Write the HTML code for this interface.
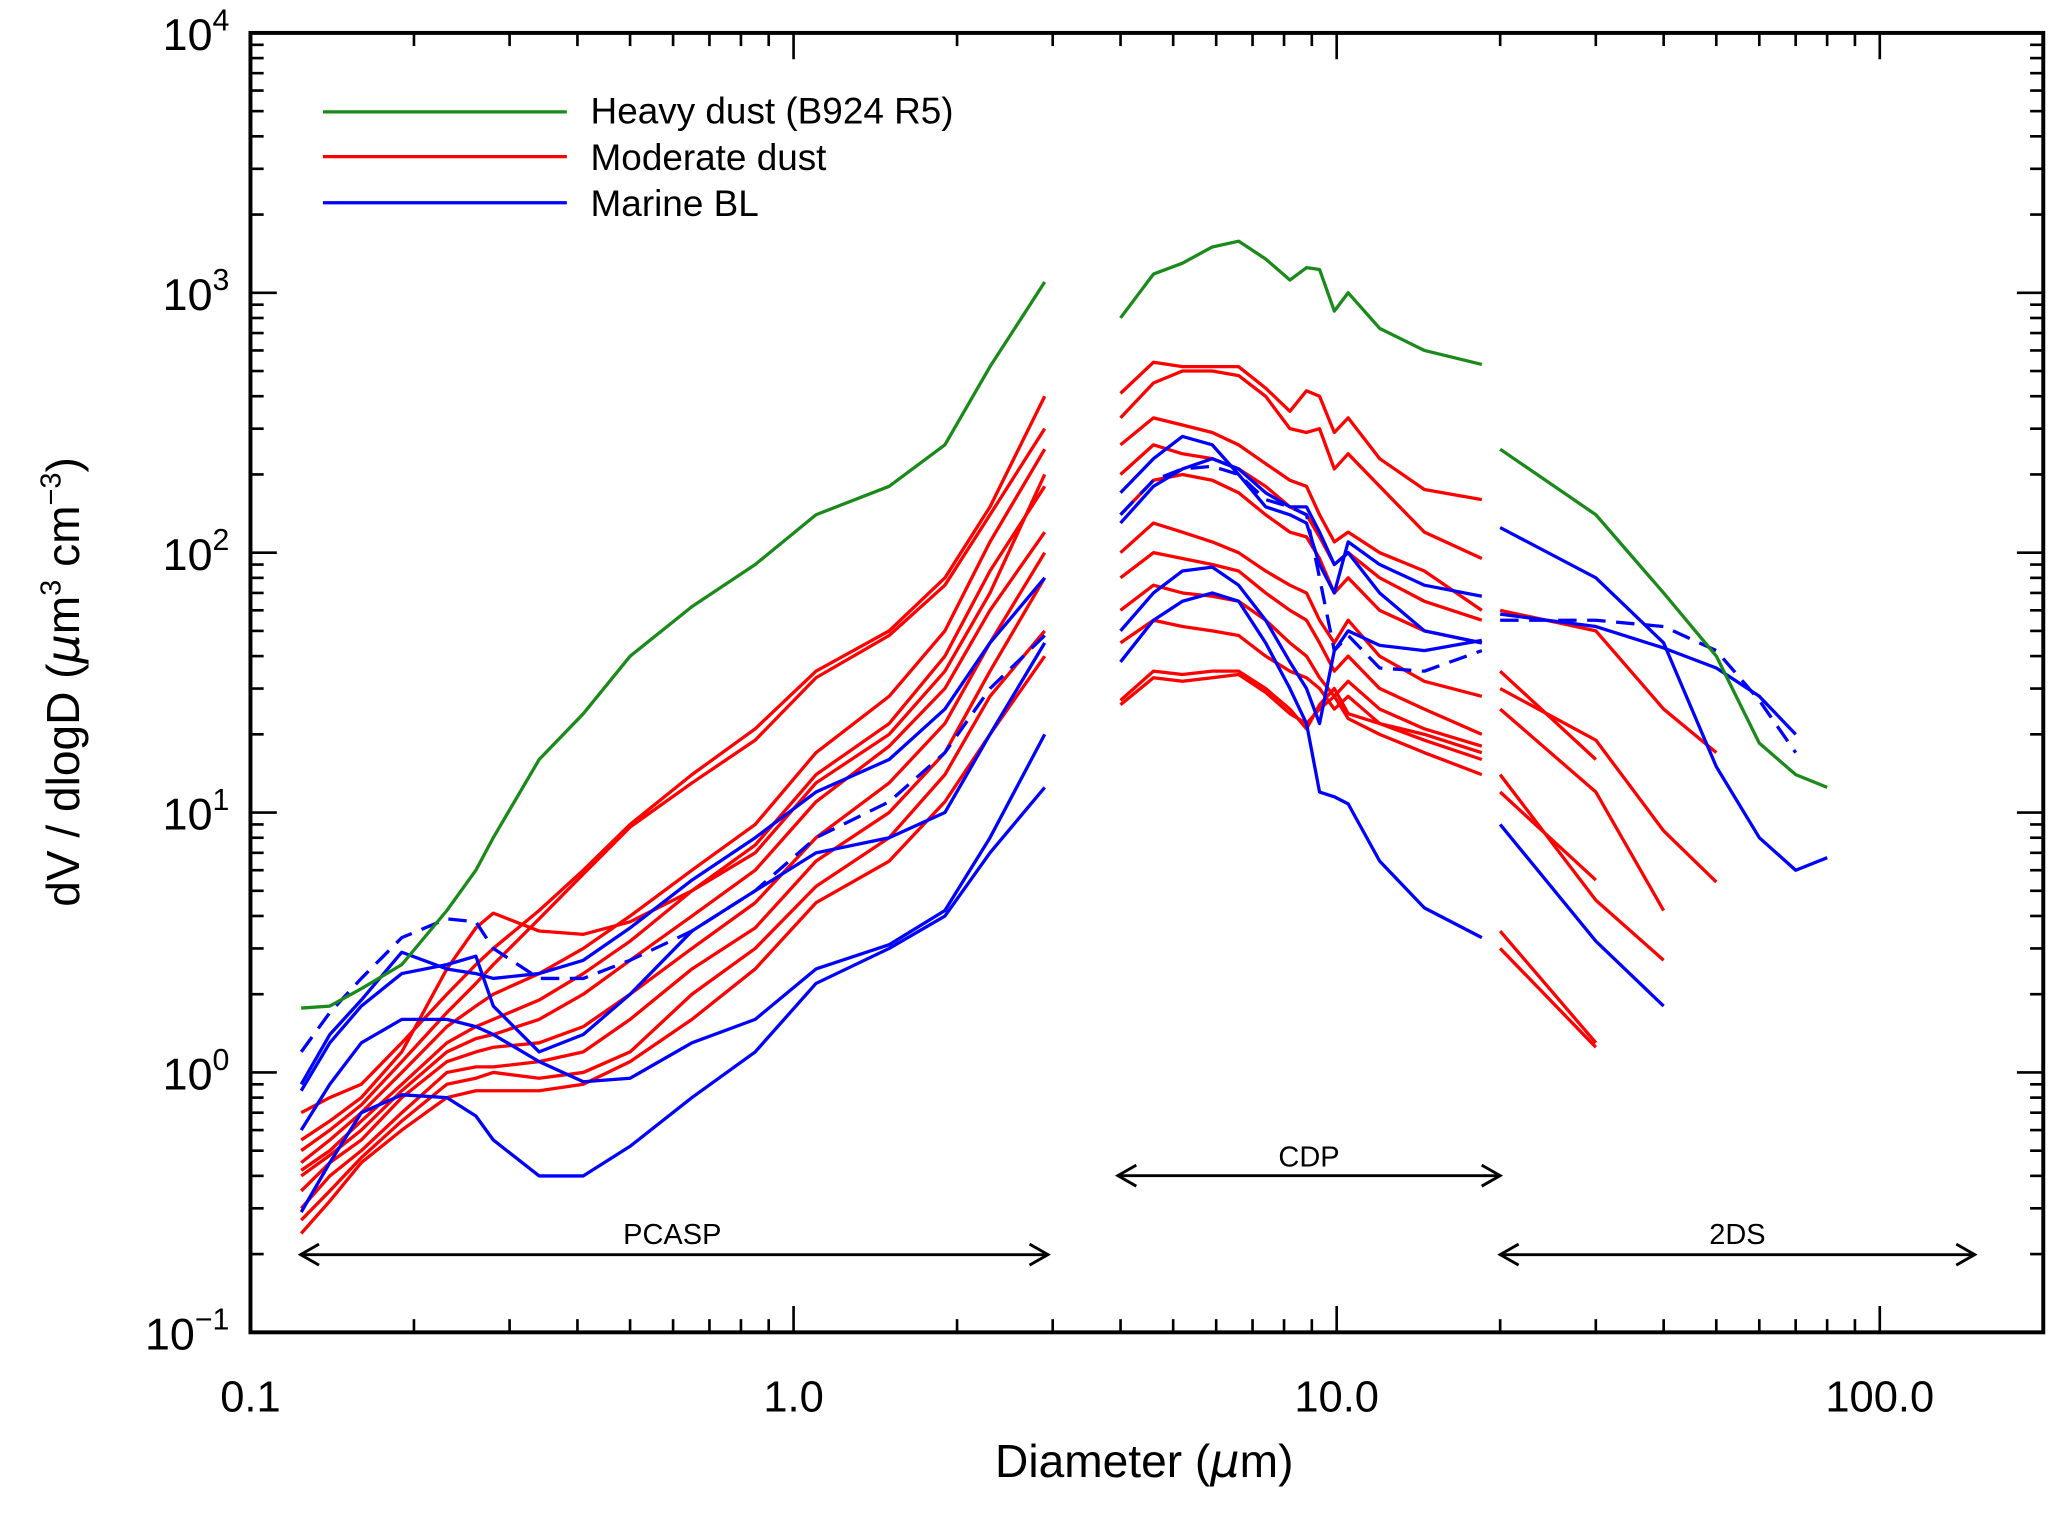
<!DOCTYPE html>
<html><head><meta charset="utf-8"><style>
html,body{margin:0;padding:0;background:#fff}
svg{display:block}
text{font-family:"Liberation Sans",sans-serif;fill:#000}
</style></head><body>
<svg id="chart" width="2067" height="1514" viewBox="0 0 1568 1150" preserveAspectRatio="none" xmlns="http://www.w3.org/2000/svg">
<g id="axes"></g>
<g id="series"></g>
<rect x="190" y="25" width="1360" height="987" fill="none" stroke="#000" stroke-width="3"/>
<g>
<line x1="245" y1="85" x2="430" y2="85" stroke="#1a8a1a" stroke-width="2.5"/>
<text x="448" y="94" font-size="28">Heavy dust (B924 R5)</text>
<line x1="245" y1="119" x2="430" y2="119" stroke="#f00" stroke-width="2.5"/>
<text x="448" y="129" font-size="28">Moderate dust</text>
<line x1="245" y1="154" x2="430" y2="154" stroke="#00f" stroke-width="2.5"/>
<text x="448" y="164" font-size="28">Marine BL</text>
</g>
<g stroke="#000" stroke-width="2.2" fill="none">
<line x1="228" y1="953" x2="795" y2="953"/>
<polyline points="242,945 228,953 242,961"/><polyline points="781,945 795,953 781,961"/>
<line x1="848" y1="893" x2="1138" y2="893"/>
<polyline points="862,885 848,893 862,901"/><polyline points="1124,885 1138,893 1124,901"/>
<line x1="1138" y1="953" x2="1498" y2="953"/>
<polyline points="1152,945 1138,953 1152,961"/><polyline points="1484,945 1498,953 1484,961"/>
</g>
<text x="510" y="945" font-size="22" text-anchor="middle">PCASP</text>
<text x="993" y="886" font-size="22" text-anchor="middle">CDP</text>
<text x="1318" y="945" font-size="22" text-anchor="middle">2DS</text>
<text x="868" y="1122" font-size="35" text-anchor="middle">Diameter (<tspan font-family="DejaVu Sans" font-style="italic">μ</tspan>m)</text>
<text transform="translate(60,518) rotate(-90)" font-size="35" text-anchor="middle">dV / dlogD (<tspan font-family="DejaVu Sans" font-style="italic">μ</tspan>m<tspan font-size="22" dy="-14">3</tspan><tspan dy="14"> cm</tspan><tspan font-size="22" dy="-14">−3</tspan><tspan dy="14">)</tspan></text>
</svg>
<script>
const xTicks=[0.1,1,10,100];
const xTickLabels=["0.1","1.0","10.0","100.0"];
const yExps=[-1,0,1,2,3,4];
const pcaspD=[0.124,0.14,0.16,0.19,0.23,0.26,0.28,0.34,0.41,0.5,0.65,0.85,1.1,1.5,1.9,2.3,2.9];
const cdpD=[4.0,4.6,5.2,5.9,6.6,7.4,8.2,8.8,9.3,9.9,10.5,12,14.5,18.5];
const tdsD=[20,30,40,50,60,70,80];
const pcaspGreen=[1.77,1.8,2.1,2.6,4.2,6,8,16,24,40,62,90,140,180,260,520,1100];
const pcaspRed=[
[0.7,0.8,0.9,1.3,2,2.6,3,4.2,6,9,14,21,35,50,80,150,400],
[0.55,0.65,0.8,1.2,2.5,3.6,4.1,3.5,3.4,3.8,5,7,13,20,35,70,200],
[0.5,0.6,0.75,1.1,1.7,2.2,2.6,3.9,5.8,8.8,13,19,33,48,75,140,300],
[0.45,0.55,0.7,1,1.5,1.8,2,2.4,3,4,6,9,17,28,50,110,250],
[0.42,0.5,0.65,0.9,1.3,1.5,1.6,1.9,2.4,3.2,5,7.5,14,22,40,85,180],
[0.4,0.48,0.6,0.85,1.2,1.35,1.4,1.6,2,2.7,4,6,11,18,30,60,120],
[0.35,0.45,0.55,0.8,1.1,1.2,1.25,1.3,1.5,2,3,4.5,8,13,22,45,100],
[0.3,0.4,0.5,0.7,1,1.05,1.05,1.1,1.2,1.6,2.5,3.6,6.5,10,17,35,80],
[0.27,0.35,0.47,0.65,0.9,0.95,1,0.95,1,1.2,2,3,5.2,8,14,28,50],
[0.24,0.32,0.45,0.6,0.8,0.85,0.85,0.85,0.9,1.1,1.6,2.5,4.5,6.5,11,20,40]];
const pcaspBlue=[
[0.29,0.45,0.7,0.82,0.8,0.68,0.55,0.4,0.4,0.52,0.8,1.2,2.2,3,4,7,12.5],
[0.6,0.9,1.3,1.6,1.6,1.5,1.4,1.1,0.92,0.95,1.3,1.6,2.5,3.1,4.2,8,20],
[0.85,1.3,1.8,2.4,2.6,2.8,1.8,1.2,1.4,2,3.5,5,7,8,10,20,45],
[0.9,1.4,1.9,2.9,2.5,2.4,2.3,2.4,2.7,3.6,5.5,8,12,16,25,45,80]];
const pcaspBlueDash=[1.2,1.7,2.3,3.3,3.9,3.8,3,2.3,2.3,2.7,3.5,5,8,11,17,30,48];
const cdpGreen=[800,1180,1300,1500,1580,1350,1120,1250,1230,850,1000,730,600,530];
const cdpRed=[
[410,540,520,520,520,430,350,420,400,290,330,230,175,160],
[330,450,500,500,480,400,300,290,300,210,240,180,120,95],
[260,330,310,290,260,220,190,180,140,110,120,100,85,60],
[200,260,240,230,210,180,150,140,115,90,100,80,65,55],
[140,190,200,190,170,140,120,115,95,70,80,60,50,45],
[100,130,120,110,100,85,75,70,55,45,55,40,32,28],
[80,100,95,90,85,70,60,55,45,35,40,30,25,20],
[60,75,70,68,65,55,45,40,33,28,32,25,21,18],
[45,55,52,50,48,40,35,33,30,25,28,22,19,16],
[27,35,34,35,35,30,25,21,26,30,24,22,20,17],
[26,33,32,33,34,29,24,22,25,28,23,20,17,14]];
const cdpBlue=[
[170,230,280,260,200,150,140,130,90,70,110,90,75,68],
[38,55,65,70,65,45,30,22,12,11.5,10.8,6.5,4.3,3.3],
[50,70,85,88,75,55,38,30,22,42,50,44,42,46],
[130,180,210,230,210,170,150,150,120,90,100,70,50,45]];
const cdpBlueDash=[140,190,210,215,200,160,150,140,80,42,48,36,35,42];
const tdsGreen=[250,140,70,40,18.5,14,12.5];
const tdsBlue=[
[125,80,45,15,8,6,6.7],
[58,52,43,36,28,20,null],
[9,3.2,1.8,null,null,null,null]];
const tdsBlueDash=[55,55,52,42,27,17,null];
const tdsRed=[
[60,50,25,17,null,null,null],
[30,19,8.5,5.4,null,null,null],
[35,16,null,null,null,null,null],
[25,12,4.2,null,null,null,null],
[14,4.6,2.7,null,null,null,null],
[12,5.5,null,null,null,null,null],
[3.5,1.3,null,null,null,null,null],
[3,1.25,null,null,null,null,null]];

const NS="http://www.w3.org/2000/svg";
const X0=190,X1=1550,Y0=1012,Y1=25;
const xMinL=-1,xMaxL=Math.log10(200);
const yMinL=-1,yMaxL=4;
function sx(v){return X0+(Math.log10(v)-xMinL)/(xMaxL-xMinL)*(X1-X0);}
function sy(v){return Y0-(Math.log10(v)-yMinL)/(yMaxL-yMinL)*(Y0-Y1);}
const axes=document.getElementById('axes');
const ser=document.getElementById('series');
function mk(tag,attrs,parent){const e=document.createElementNS(NS,tag);for(const k in attrs)e.setAttribute(k,attrs[k]);parent.appendChild(e);return e;}
for(let d=-1;d<=2;d++){for(let m=1;m<=9;m++){const v=m*Math.pow(10,d);if(Math.log10(v)>xMaxL)continue;const x=sx(v);const L=m===1?20:10;
const t1=mk('line',{x1:x,y1:Y0,x2:x,y2:Y0-L,stroke:'#000','stroke-width':2},axes);


const t2=mk('line',{x1:x,y1:Y1,x2:x,y2:Y1+L,stroke:'#000','stroke-width':2},axes);

}}
xTicks.forEach((v,i)=>{const t=mk('text',{x:sx(v),y:1072,'font-size':33,'text-anchor':'middle'},axes);t.textContent=xTickLabels[i];

});
yExps.forEach(e=>{for(let m=1;m<=9;m++){const v=m*Math.pow(10,e);if(Math.log10(v)>yMaxL+1e-9)continue;const y=sy(v);const L=m===1?20:10;
const t1=mk('line',{x1:X0,y1:y,x2:X0+L,y2:y,stroke:'#000','stroke-width':2},axes);


const t2=mk('line',{x1:X1,y1:y,x2:X1-L,y2:y,stroke:'#000','stroke-width':2},axes);

}
const t=mk('text',{x:174,y:sy(Math.pow(10,e))+13,'font-size':34,'text-anchor':'end'},axes);


const a=document.createElementNS(NS,'tspan');a.textContent='10';t.appendChild(a);
const b=document.createElementNS(NS,'tspan');b.setAttribute('font-size','23');b.setAttribute('dy','-15');b.textContent=e<0?'−'+(-e):String(e);t.appendChild(b);});
function draw(D,vals,color,dash,name){let segs=[],cur=[];D.forEach((d,i)=>{const v=vals[i];if(v==null){if(cur.length)segs.push(cur);cur=[];}else cur.push(sx(d).toFixed(1)+','+sy(v).toFixed(1));});if(cur.length)segs.push(cur);
segs.forEach(s=>{const p=mk('polyline',{points:s.join(' '),fill:'none',stroke:color,'stroke-width':2.5,'stroke-linejoin':'round'},ser);if(dash)p.setAttribute('stroke-dasharray','14,8');

});}
const G='#1a8a1a',R='#f00',B='#00f';
pcaspRed.forEach(s=>draw(pcaspD,s,R,false,'moderate-dust-pcasp-line'));
pcaspBlue.forEach(s=>draw(pcaspD,s,B,false,'marine-bl-pcasp-line'));
draw(pcaspD,pcaspBlueDash,B,true,'marine-bl-pcasp-dashed-line');
draw(pcaspD,pcaspGreen,G,false,'heavy-dust-pcasp-line');
cdpRed.forEach(s=>draw(cdpD,s,R,false,'moderate-dust-cdp-line'));
cdpBlue.forEach(s=>draw(cdpD,s,B,false,'marine-bl-cdp-line'));
draw(cdpD,cdpBlueDash,B,true,'marine-bl-cdp-dashed-line');
draw(cdpD,cdpGreen,G,false,'heavy-dust-cdp-line');
tdsRed.forEach(s=>draw(tdsD,s,R,false,'moderate-dust-2ds-line'));
tdsBlue.forEach(s=>draw(tdsD,s,B,false,'marine-bl-2ds-line'));
draw(tdsD,tdsBlueDash,B,true,'marine-bl-2ds-dashed-line');
draw(tdsD,tdsGreen,G,false,'heavy-dust-2ds-line');
</script>
</body></html>
